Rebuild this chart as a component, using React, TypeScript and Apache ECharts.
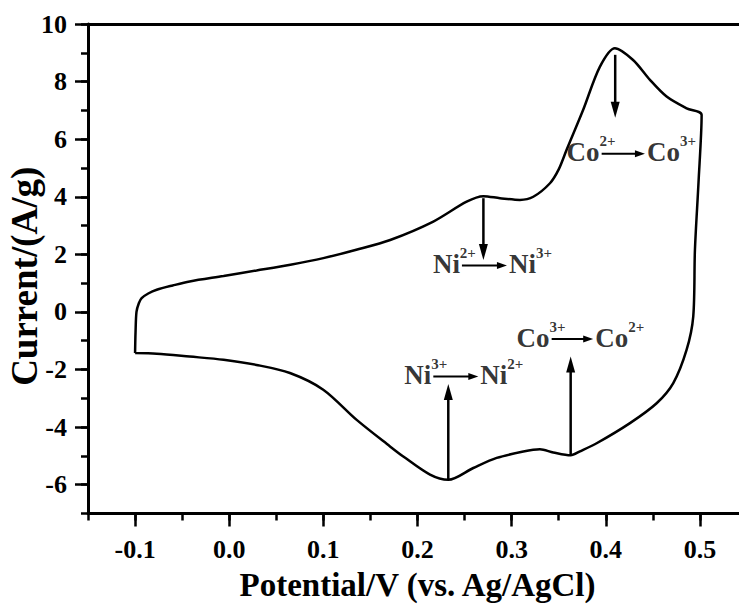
import React, { useEffect, useRef } from "react";
import * as echarts from "echarts";

// CV curve: anodic branch (left edge up, then to 0.5 V), right edge down, cathodic branch back
const potential: number[] = [
  -0.1, -0.0995, -0.0985, -0.096, -0.093, -0.086, -0.077, -0.06, -0.042, -0.006,
  0.029, 0.065, 0.1, 0.135, 0.171, 0.2168, 0.2522, 0.27, 0.2876,
  0.3088, 0.323, 0.3407, 0.35, 0.3584, 0.376, 0.3938, 0.4097, 0.429, 0.4469, 0.4646,
  0.4859, 0.5018,
  0.4985, 0.4947, 0.4929, 0.4858, 0.4717, 0.454, 0.4257, 0.3903, 0.3726, 0.3627,
  0.3442, 0.33, 0.3124, 0.2841, 0.2593, 0.2327, 0.2133, 0.1849, 0.1708,
  0.1354, 0.0999, 0.0645, 0.029, -0.006, -0.042, -0.077, -0.1,
];
const current: number[] = [
  -1.43, -0.7, 0.0, 0.3, 0.48, 0.64, 0.77, 0.92, 1.06, 1.25,
  1.44, 1.64, 1.87, 2.16, 2.5, 3.14, 3.83, 4.02, 3.95,
  3.89, 4.0, 4.47, 4.95, 5.63, 7.02, 8.52, 9.16, 8.75, 8.06, 7.48,
  7.07, 6.84,
  4.5, 2.16, -0.16, -1.32, -2.47, -3.17, -3.86, -4.56, -4.84, -4.98,
  -4.88, -4.77, -4.85, -5.07, -5.42, -5.83, -5.65, -5.02, -4.67,
  -3.75, -2.7, -2.12, -1.84, -1.66, -1.55, -1.45, -1.43,
];

const xMajorTicks: number[] = [-0.1, 0.0, 0.1, 0.2, 0.3, 0.4, 0.5];
const yMajorTicks: number[] = [-6, -4, -2, 0, 2, 4, 6, 8, 10];

// peak arrows: [V start, I start, V end, I end]
const peakArrows: number[][] = [
  [0.41, 8.93, 0.41, 6.74],
  [0.27, 3.95, 0.27, 1.8],
  [0.2327, -5.83, 0.2327, -2.5],
  [0.3627, -4.97, 0.3627, -1.55],
];

// reaction labels
const ionNames: string[] = ["Co", "Ni", "Ni", "Co"];
const fromCharges: string[] = ["2+", "2+", "3+", "3+"];
const toCharges: string[] = ["3+", "3+", "2+", "2+"];
const labelArrowStartV: number[] = [0.3956, 0.2472, 0.2168, 0.3425];
const labelArrowEndV: number[] = [0.4416, 0.295, 0.2646, 0.3866];
const labelArrowI: number[] = [5.49, 1.61, -2.24, -0.944];

const FONT = "'Liberation Serif', 'Times New Roman', serif";

function arrowRenderer(headLen: number, headHalf: number, lineWidth: number) {
  return (_params: any, api: any) => {
    const p1 = api.coord([api.value(0), api.value(1)]);
    const p2 = api.coord([api.value(2), api.value(3)]);
    const dx = p2[0] - p1[0];
    const dy = p2[1] - p1[1];
    const len = Math.hypot(dx, dy) || 1;
    const ux = dx / len;
    const uy = dy / len;
    const bx = p2[0] - ux * headLen;
    const by = p2[1] - uy * headLen;
    const nx = -uy;
    const ny = ux;
    return {
      type: "group",
      children: [
        {
          type: "line",
          shape: { x1: p1[0], y1: p1[1], x2: bx + ux, y2: by + uy },
          style: { stroke: "#000", lineWidth },
        },
        {
          type: "polygon",
          shape: {
            points: [
              [p2[0], p2[1]],
              [bx + nx * headHalf, by + ny * headHalf],
              [bx - nx * headHalf, by - ny * headHalf],
            ],
          },
          style: { fill: "#000" },
        },
      ],
    };
  };
}

const richStyles = {
  b: {
    fontSize: 27,
    fontWeight: "bold" as const,
    fontFamily: FONT,
    color: "#000",
    lineHeight: 32,
    verticalAlign: "bottom" as const,
  },
  s: {
    fontSize: 15,
    fontWeight: "bold" as const,
    fontFamily: FONT,
    color: "#000",
    lineHeight: 15,
    verticalAlign: "top" as const,
  },
};

export default function App() {
  const ref = useRef<HTMLDivElement>(null);

  useEffect(() => {
    if (!ref.current) return;
    const chart = echarts.init(ref.current, undefined, { renderer: "svg" });

    const curve = potential.map((v, i) => [v, current[i]]);
    const labelArrows = labelArrowStartV.map((v, i) => [v, labelArrowI[i], labelArrowEndV[i], labelArrowI[i]]);
    const leftLabels = labelArrowStartV.map((v, i) => ({
      value: [v, labelArrowI[i]],
      label: { formatter: `{b|${ionNames[i]}}{s|${fromCharges[i]}}` },
    }));
    const rightLabels = labelArrowEndV.map((v, i) => ({
      value: [v, labelArrowI[i]],
      label: { formatter: `{b|${ionNames[i]}}{s|${toCharges[i]}}` },
    }));

    const tickLabelStyle = {
      fontSize: 26,
      fontWeight: "bold" as const,
      fontFamily: FONT,
      color: "#000",
    };
    const axisLineStyle = { color: "#000", width: 3 };

    chart.setOption({
      animation: false,
      backgroundColor: "#fff",
      grid: {
        left: 88,
        right: -8,
        top: 24,
        bottom: 95.5,
        containLabel: false,
        outerBoundsMode: "none",
      },
      xAxis: [
        {
          type: "value",
          position: "bottom",
          min: -0.15,
          max: 0.55,
          interval: 0.05,
          axisLine: { show: true, onZero: false, lineStyle: axisLineStyle },
          axisTick: { show: true, length: 7, lineStyle: { color: "#000", width: 2.5 } },
          axisLabel: {
            ...tickLabelStyle,
            margin: 23,
            formatter: (v: number) => {
              const k = Math.round(v * 20);
              if (k % 2 !== 0) return "";
              return (k / 20).toFixed(1);
            },
          },
          splitLine: { show: false },
          name: "Potential/V (vs. Ag/AgCl)",
          nameLocation: "middle",
          nameGap: 55,
          nameMoveOverlap: false,
          nameTextStyle: { fontSize: 33, fontWeight: "bold", fontFamily: FONT, color: "#000" },
        },
        {
          type: "value",
          position: "bottom",
          min: -0.15,
          max: 0.55,
          axisLine: { show: false, onZero: false },
          axisTick: { show: true, length: 13, customValues: xMajorTicks, lineStyle: { color: "#000", width: 2.5 } },
          axisLabel: { show: false },
          splitLine: { show: false },
        },
        {
          type: "value",
          position: "top",
          min: -0.15,
          max: 0.55,
          axisLine: { show: true, onZero: false, lineStyle: axisLineStyle },
          axisTick: { show: false },
          axisLabel: { show: false },
          splitLine: { show: false },
        },
      ],
      yAxis: [
        {
          type: "value",
          position: "left",
          min: -7,
          max: 10,
          interval: 1,
          axisLine: { show: true, onZero: false, lineStyle: axisLineStyle },
          axisTick: { show: true, length: 7, lineStyle: { color: "#000", width: 2.5 } },
          axisLabel: {
            ...tickLabelStyle,
            margin: 21,
            formatter: (v: number) => {
              const k = Math.round(v);
              if (k % 2 !== 0) return "";
              return String(k);
            },
          },
          splitLine: { show: false },
          name: "Current/(A/g)",
          nameLocation: "middle",
          nameGap: 45,
          nameMoveOverlap: false,
          nameTextStyle: {
            fontSize: 37,
            fontWeight: "bold",
            fontFamily: FONT,
            color: "#000",
            padding: [0, 15, 0, 0],
          },
        },
        {
          type: "value",
          position: "left",
          min: -7,
          max: 10,
          axisLine: { show: false, onZero: false },
          axisTick: { show: true, length: 13, customValues: yMajorTicks, lineStyle: { color: "#000", width: 2.5 } },
          axisLabel: { show: false },
          splitLine: { show: false },
        },
      ],
      series: [
        {
          type: "line",
          data: curve,
          xAxisIndex: 0,
          yAxisIndex: 0,
          showSymbol: false,
          symbol: "none",
          smooth: 0.3,
          lineStyle: { color: "#000", width: 2.5 },
          z: 3,
        },
        {
          type: "custom",
          xAxisIndex: 0,
          yAxisIndex: 0,
          data: peakArrows,
          encode: { x: [0, 2], y: [1, 3] },
          clip: false,
          renderItem: arrowRenderer(16, 4.5, 2.5),
          z: 4,
        },
        {
          type: "custom",
          xAxisIndex: 0,
          yAxisIndex: 0,
          data: labelArrows,
          encode: { x: [0, 2], y: [1, 3] },
          clip: false,
          renderItem: arrowRenderer(10, 3.5, 2),
          z: 4,
        },
        {
          type: "scatter",
          xAxisIndex: 0,
          yAxisIndex: 0,
          symbolSize: 0,
          data: leftLabels,
          label: {
            show: true,
            position: "inside",
            align: "right",
            verticalAlign: "middle",
            offset: [14, -4],
            rich: richStyles,
          },
          z: 5,
        },
        {
          type: "scatter",
          xAxisIndex: 0,
          yAxisIndex: 0,
          symbolSize: 0,
          data: rightLabels,
          label: {
            show: true,
            position: "inside",
            align: "left",
            verticalAlign: "middle",
            offset: [2, -4],
            rich: richStyles,
          },
          z: 5,
        },
      ],
    });

    return () => chart.dispose();
  }, []);

  return (
    <div
      ref={ref}
      style={{ position: "fixed", left: 0, top: 0, width: 739, height: 609, background: "#fff" }}
    />
  );
}
